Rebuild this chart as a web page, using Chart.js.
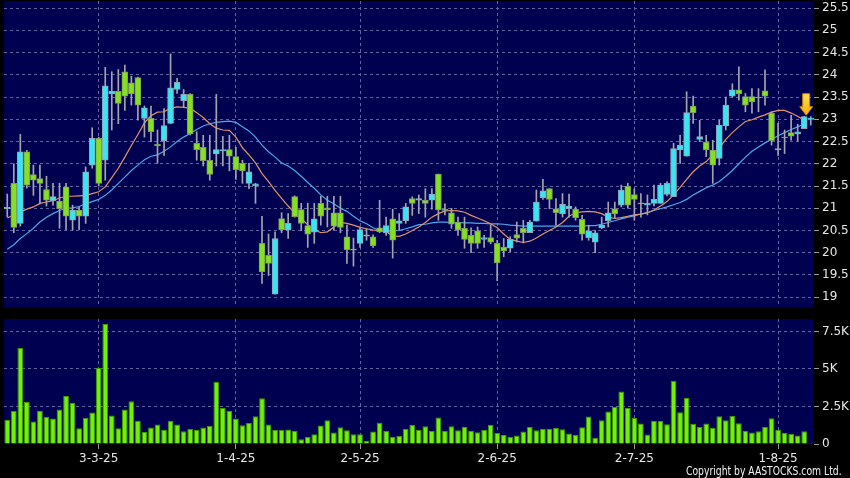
<!DOCTYPE html>
<html><head><meta charset="utf-8">
<script src="https://cdn.jsdelivr.net/npm/chart.js@4"></script>
<style>
html,body{margin:0;padding:0;background:#000;width:850px;height:478px;overflow:hidden;}
#p{position:absolute;left:0;top:0;}
#v{position:absolute;left:0;top:310px;}
#copy{position:absolute;left:686px;top:464px;color:#f2f2f2;font:12px "DejaVu Sans";white-space:nowrap;transform:scaleX(0.77);transform-origin:left top;}
</style></head>
<body>
<canvas id="p" width="850" height="310"></canvas>
<canvas id="v" width="850" height="168"></canvas>
<div id="copy">Copyright by AASTOCKS.com Ltd.</div>
<script>
const open = [
20.99,21.56,20.66,22.27,21.76,21.67,21.42,21.17,21.16,21.48,
20.73,20.96,20.82,21.97,22.57,22.08,23.57,23.63,24.07,23.82,
23.94,23.02,23.02,22.44,22.52,22.91,23.67,23.42,23.56,22.46,
22.37,22.08,22.22,22.29,22.32,22.16,22.01,21.56,21.50,20.21,
19.94,19.07,20.77,20.51,21.26,20.97,20.61,20.46,21.11,21.01,
20.90,20.90,20.36,20.08,20.21,20.37,20.36,20.56,20.45,20.76,
20.66,20.72,21.22,21.18,21.18,21.18,21.77,20.98,20.90,20.69,
20.55,20.39,20.49,20.30,20.34,20.21,20.13,20.10,20.41,20.55,
20.45,20.71,21.24,21.44,20.99,20.87,20.99,20.98,20.75,20.34,
20.24,20.56,20.72,20.99,21.07,21.50,21.31,21.12,21.07,21.11,
21.11,21.31,21.26,22.31,22.17,23.30,22.55,22.49,22.31,22.12,
22.85,23.52,23.66,23.51,23.51,23.50,23.64,23.14,22.31,22.60,
22.70,22.67,22.79,23.00];
const close = [
21.02,20.57,22.27,21.52,21.63,21.56,21.18,21.26,20.99,20.82,
20.96,20.82,21.82,22.57,21.56,23.75,23.63,23.36,23.52,23.57,
23.32,23.26,22.72,22.40,22.86,23.71,23.83,23.56,22.67,22.32,
22.07,21.76,22.32,22.32,22.17,21.87,21.84,21.82,21.55,19.57,
19.76,20.32,20.52,20.66,20.81,20.66,20.42,20.76,20.82,20.97,
20.60,20.57,20.07,20.06,20.52,20.40,20.16,20.47,20.61,20.28,
20.72,21.03,21.11,21.22,21.11,21.32,20.96,20.95,20.64,20.51,
20.30,20.21,20.21,20.34,20.24,19.77,20.04,20.30,20.33,20.45,
20.69,21.14,21.39,21.20,20.90,21.09,21.05,20.79,20.42,20.49,
20.45,20.62,20.90,20.87,21.41,21.07,21.20,21.10,21.11,21.20,
21.52,21.56,22.34,22.42,23.15,23.15,22.61,22.31,21.97,22.87,
23.32,23.66,23.57,23.32,23.39,23.48,23.52,22.52,22.34,22.58,
22.62,22.72,23.06,23.03];
const high = [
21.32,22.00,22.66,22.30,21.97,21.97,21.72,21.56,21.56,21.56,
21.07,21.03,21.93,22.81,22.60,24.17,24.07,24.12,24.22,23.97,
23.95,23.30,23.30,22.76,23.24,24.47,23.92,23.67,23.58,22.72,
22.64,22.64,23.56,22.62,22.64,22.37,22.08,22.01,21.56,20.82,
20.42,20.47,20.90,20.88,21.28,21.11,21.11,21.11,21.27,21.27,
21.27,21.27,20.62,20.33,20.58,20.54,20.40,21.18,20.80,20.98,
20.88,21.11,21.26,21.30,21.44,21.44,21.77,21.10,21.00,20.80,
20.80,20.56,20.58,20.39,20.62,20.28,20.32,20.36,20.69,20.73,
20.73,21.41,21.65,21.44,21.22,21.33,21.32,21.03,20.84,20.62,
20.50,20.80,21.14,21.14,21.52,21.56,21.44,21.33,21.30,21.52,
21.56,21.60,22.46,22.64,23.62,23.52,22.98,22.64,22.53,22.98,
23.50,23.80,24.18,23.58,23.69,23.69,24.11,23.17,22.91,22.76,
23.09,22.89,23.07,23.06];
const low = [
20.81,20.45,20.60,21.45,21.29,21.10,21.05,21.07,20.55,20.52,
20.51,20.52,20.66,21.90,21.50,21.63,22.76,22.90,23.20,23.32,
22.98,22.60,22.50,22.01,22.19,22.90,23.58,23.28,22.65,22.08,
21.95,21.63,21.95,21.95,21.84,21.65,21.56,21.44,21.11,19.31,
19.49,19.07,20.45,20.32,20.80,20.50,20.12,20.21,20.62,20.58,
20.51,20.45,19.76,19.70,20.12,20.28,20.12,20.45,20.39,19.88,
20.51,20.66,20.84,20.88,20.80,20.98,20.73,20.85,20.55,20.39,
20.10,20.00,20.10,20.12,20.20,19.37,19.91,20.02,20.24,20.22,
20.45,20.71,21.20,20.99,20.62,20.80,20.80,20.73,20.28,20.28,
20.00,20.54,20.58,20.77,21.03,21.00,20.73,20.80,20.85,21.05,
21.11,21.28,21.26,22.01,22.17,22.91,22.50,22.16,21.56,21.97,
22.76,23.50,23.43,23.17,23.14,23.17,23.32,22.42,22.19,22.23,
22.53,22.51,22.79,22.87];
const ma10 = [
20.78,20.85,20.92,20.98,21.03,21.11,21.14,21.17,21.23,21.27,
21.27,21.28,21.29,21.33,21.37,21.48,21.69,21.90,22.15,22.41,
22.66,22.92,23.08,23.16,23.17,23.25,23.28,23.27,23.25,23.15,
23.04,22.90,22.80,22.76,22.75,22.60,22.36,22.20,22.02,21.78,
21.60,21.40,21.22,21.05,20.90,20.77,20.63,20.52,20.45,20.47,
20.58,20.68,20.66,20.62,20.57,20.54,20.51,20.50,20.47,20.38,
20.37,20.42,20.50,20.58,20.68,20.80,20.88,20.94,20.95,20.94,
20.91,20.84,20.78,20.72,20.65,20.56,20.42,20.30,20.26,20.23,
20.26,20.33,20.42,20.50,20.58,20.68,20.82,20.90,20.92,20.93,
20.92,20.88,20.80,20.77,20.79,20.82,20.85,20.87,20.90,20.96,
21.05,21.15,21.30,21.47,21.65,21.82,21.95,22.05,22.20,22.35,
22.55,22.70,22.83,22.95,22.99,23.05,23.10,23.16,23.20,23.20,
23.14,23.07,22.98,null];
const ma20 = [
20.08,20.18,20.32,20.43,20.55,20.69,20.80,20.88,20.95,21.00,
21.01,21.04,21.10,21.15,21.20,21.29,21.41,21.56,21.70,21.85,
21.97,22.09,22.17,22.20,22.28,22.38,22.50,22.60,22.68,22.77,
22.85,22.90,22.93,22.95,22.96,22.93,22.83,22.74,22.60,22.42,
22.27,22.15,22.02,21.95,21.85,21.72,21.58,21.45,21.30,21.18,
21.10,21.00,20.93,20.82,20.72,20.65,20.56,20.50,20.48,20.49,
20.50,20.54,20.58,20.63,20.64,20.67,20.69,20.69,20.68,20.68,
20.67,20.67,20.66,20.66,20.65,20.65,20.64,20.62,20.61,20.60,
20.60,20.60,20.60,20.60,20.60,20.60,20.60,20.60,20.60,20.61,
20.61,20.64,20.68,20.72,20.76,20.80,20.83,20.87,20.90,20.95,
20.99,21.03,21.08,21.13,21.20,21.30,21.38,21.46,21.52,21.60,
21.72,21.85,22.00,22.15,22.28,22.38,22.47,22.55,22.63,22.70,
22.77,22.83,22.90,null];
const volumeK = [
1.60,2.20,6.40,2.80,1.50,2.20,1.80,1.70,2.30,3.20,
2.75,1.05,1.75,2.10,5.07,8.00,1.90,1.05,2.30,2.85,
1.55,0.80,1.10,1.30,0.95,1.55,1.30,0.85,1.00,0.95,
1.10,1.20,4.15,2.40,2.20,1.70,1.25,1.40,1.85,3.05,
1.30,0.95,0.95,0.96,0.87,0.31,0.47,0.65,1.23,1.59,
0.76,1.12,0.92,0.65,0.65,0.22,0.83,1.41,0.87,0.47,
0.54,1.00,1.27,0.94,1.18,0.87,1.76,0.87,1.18,0.92,
1.14,0.87,0.78,0.94,1.27,0.74,0.60,0.49,0.56,0.83,
1.14,0.92,1.00,1.00,1.09,0.98,0.70,0.60,1.11,1.83,
0.41,1.58,2.17,2.47,3.50,2.40,1.73,1.36,0.64,1.53,
1.53,1.32,4.20,2.12,3.06,1.35,1.14,1.36,1.09,1.85,
1.59,1.88,1.39,0.89,0.76,0.85,1.14,1.72,0.94,0.74,
0.67,0.56,0.85,0.05];
const days = open.map((_, i) => i);
const dateTickIndex = [14, 35, 54, 75, 96, 118];
const dateTickLabels = ['3-3-25', '1-4-25', '2-5-25', '2-6-25', '2-7-25', '1-8-25'];
const priceTicks = [19, 19.5, 20, 20.5, 21, 21.5, 22, 22.5, 23, 23.5, 24, 24.5, 25, 25.5];
const volumeTicks = [0, 2.5, 5, 7.5];
const volumeTickLabels = ['0', '2.5K', '5K', '7.5K'];
const markerIndex = 122;

const NAVY = '#000050';
const GRID = '#62629e';
const TXT = '#e6e6e6';
const FONT = {family: 'DejaVu Sans', size: 12};
const UP_FILL = '#3be4f2', UP_EDGE = '#8aa6b4';
const DN_FILL = '#86e022', DN_EDGE = '#7a9a60';

const panelBg = {
  id: 'panelBg',
  beforeDraw(chart) {
    const a = chart.chartArea, c = chart.ctx;
    c.save(); c.fillStyle = NAVY; c.fillRect(a.left, a.top, a.right - a.left, a.bottom - a.top); c.restore();
  }
};
const arrow = {
  id: 'arrow',
  afterDatasetsDraw(chart) {
    const c = chart.ctx;
    const x = chart.scales.x.getPixelForValue(markerIndex) + 2;
    const tip = chart.scales.y.getPixelForValue(high[markerIndex]) - 1;
    c.save();
    c.beginPath();
    c.moveTo(x, tip);
    c.lineTo(x - 6.5, tip - 8.5);
    c.lineTo(x - 3.5, tip - 8.5);
    c.lineTo(x - 3.5, tip - 21.5);
    c.lineTo(x + 3.5, tip - 21.5);
    c.lineTo(x + 3.5, tip - 8.5);
    c.lineTo(x + 6.5, tip - 8.5);
    c.closePath();
    const g = c.createLinearGradient(0, tip - 22, 0, tip);
    g.addColorStop(0, '#ffe25a'); g.addColorStop(1, '#f5b000');
    c.fillStyle = g; c.fill();
    c.strokeStyle = '#c88400'; c.lineWidth = 1; c.stroke();
    c.restore();
  }
};
const noPad = (s) => { s.paddingTop = 0; s.paddingBottom = 0; s.paddingLeft = 0; s.paddingRight = 0; };
const dateTicks = (s) => { s.ticks = dateTickIndex.map(v => ({value: v})); };

const isUp = open.map((o, i) => close[i] >= o);

new Chart(document.getElementById('p'), {
  type: 'bar',
  data: {
    labels: days,
    datasets: [
      {type: 'line', data: ma20, borderColor: '#4aa9ea', borderWidth: 1.2, pointRadius: 0, order: 4, spanGaps: false},
      {type: 'line', data: ma10, borderColor: '#e39468', borderWidth: 1.2, pointRadius: 0, order: 3, spanGaps: false},
      {data: low.map((l, i) => [l, high[i]]), backgroundColor: '#a4a4ae', barThickness: 1, grouped: false, order: 2},
      {data: open.map((o, i) => [o, close[i]]), backgroundColor: isUp.map(u => u ? UP_FILL : DN_FILL),
       borderColor: isUp.map(u => u ? UP_EDGE : DN_EDGE), borderWidth: 1, borderSkipped: false, barThickness: 6, grouped: false, order: 1}
    ]
  },
  options: {
    responsive: false, animation: false, devicePixelRatio: 1,
    layout: {padding: {left: 4, top: 1, right: 0, bottom: 3}},
    plugins: {legend: {display: false}, tooltip: {enabled: false}},
    scales: {
      x: {
        offset: true,
        afterBuildTicks: dateTicks,
        afterFit: (s) => { s.height = 0; noPad(s); },
        grid: {offset: false, color: GRID, lineWidth: 1, drawTicks: false},
        border: {display: false, dash: [3, 3]},
        ticks: {display: false, autoSkip: false}
      },
      y: {
        position: 'right', min: 18.78, max: 25.66,
        afterBuildTicks: (s) => { s.ticks = priceTicks.map(v => ({value: v})); },
        afterFit: (s) => { s.width = 36; noPad(s); },
        grid: {color: GRID, lineWidth: 1, tickLength: 5, tickColor: '#9a9a9a', tickBorderDash: []},
        border: {display: false, dash: [3, 3]},
        ticks: {color: TXT, font: FONT, padding: 3, callback: (v) => String(v)}
      }
    }
  },
  plugins: [panelBg, arrow]
});

new Chart(document.getElementById('v'), {
  type: 'bar',
  data: {
    labels: days,
    datasets: [{data: volumeK, backgroundColor: '#72f200', borderColor: '#3f9a00', borderWidth: 1,
      categoryPercentage: 1, barPercentage: 0.88}]
  },
  options: {
    responsive: false, animation: false, devicePixelRatio: 1,
    layout: {padding: {left: 4, top: 9, right: 0, bottom: 0}},
    plugins: {legend: {display: false}, tooltip: {enabled: false}},
    scales: {
      x: {
        offset: true,
        afterBuildTicks: dateTicks,
        afterFit: (s) => { s.height = 34; noPad(s); },
        grid: {offset: false, color: GRID, lineWidth: 1, drawTicks: true, tickLength: 5, tickColor: '#9a9a9a', tickBorderDash: []},
        border: {display: false, dash: [3, 3]},
        ticks: {color: TXT, font: FONT, padding: 3, autoSkip: false, maxRotation: 0,
          callback: (v, i) => dateTickLabels[i]}
      },
      y: {
        position: 'right', min: 0, max: 8.33,
        afterBuildTicks: (s) => { s.ticks = volumeTicks.map(v => ({value: v})); },
        afterFit: (s) => { s.width = 36; noPad(s); },
        grid: {color: (ctx) => ctx.tick && ctx.tick.value === 0 ? 'rgba(0,0,0,0)' : GRID, lineWidth: 1, tickLength: 5, tickColor: '#9a9a9a', tickBorderDash: []},
        border: {display: false, dash: [3, 3]},
        ticks: {color: TXT, font: FONT, padding: 3, callback: (v, i) => volumeTickLabels[i]}
      }
    }
  },
  plugins: [panelBg]
});
</script>
</body></html>
